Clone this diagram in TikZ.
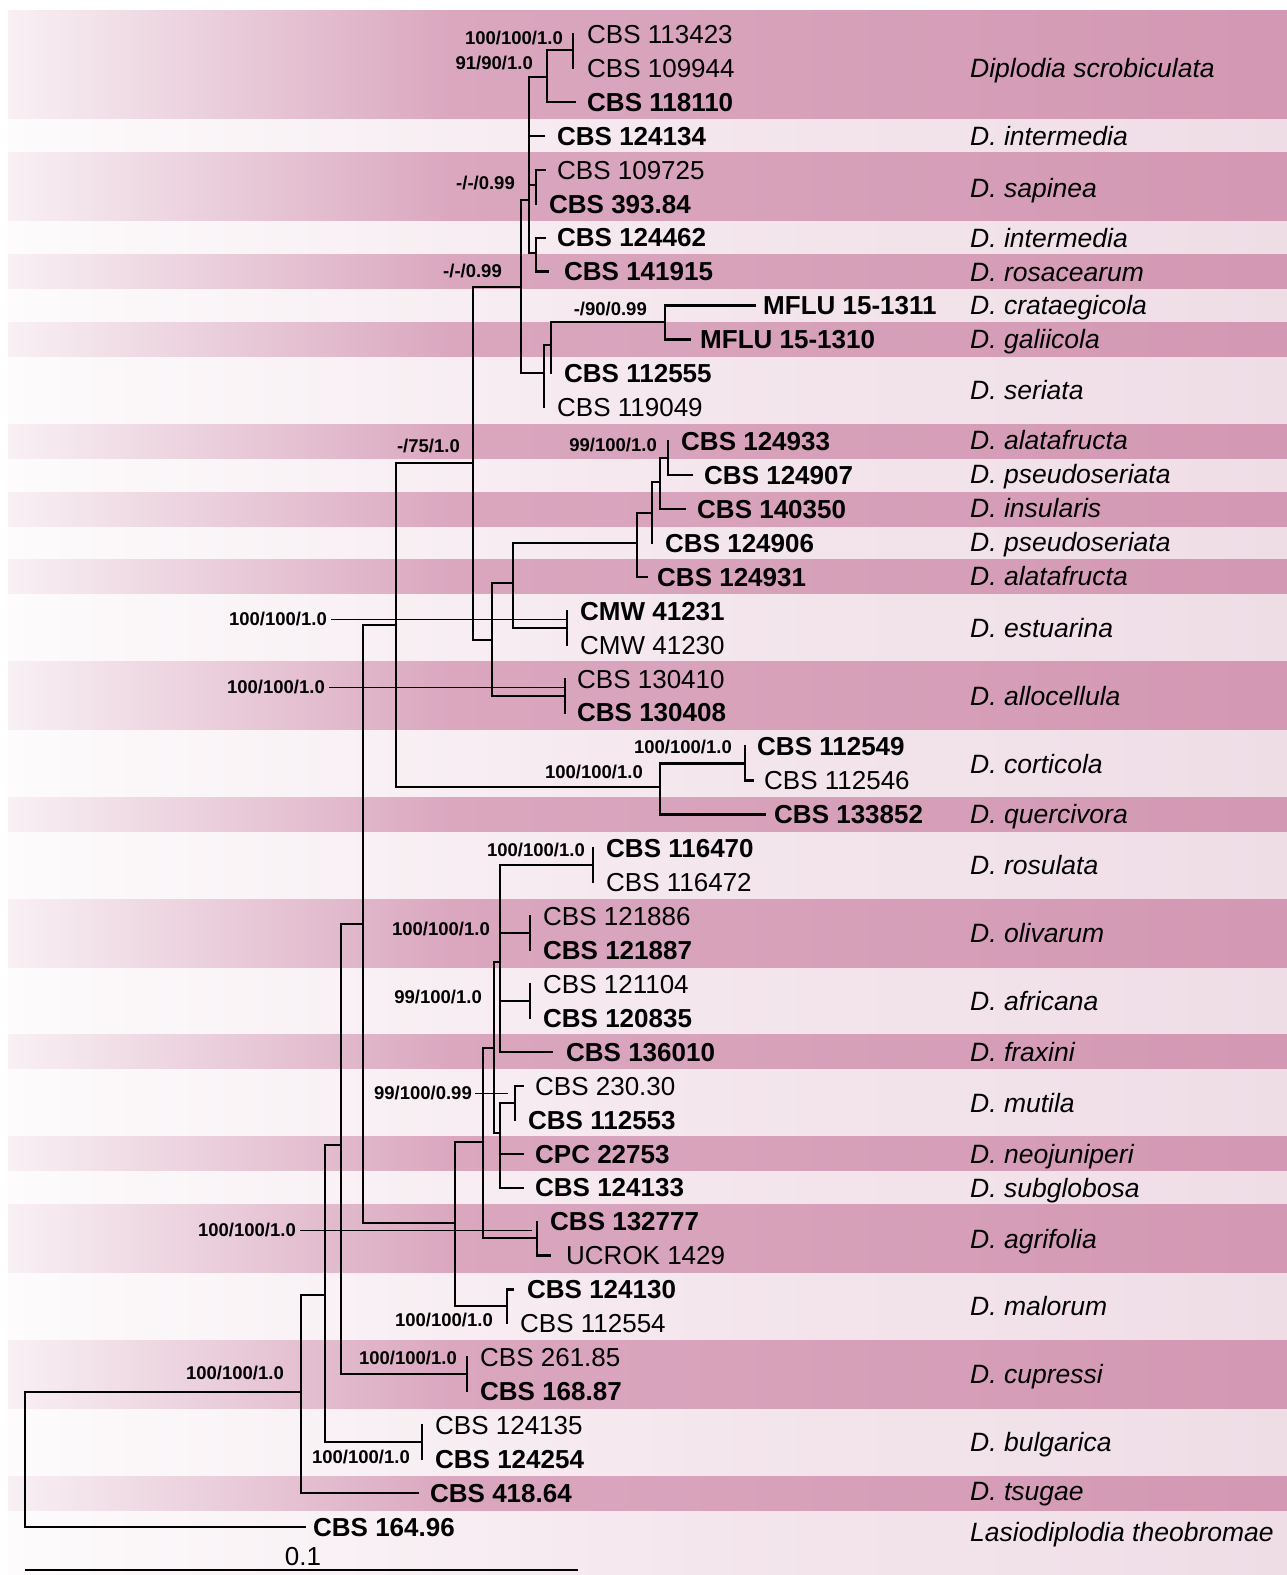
\documentclass[tikz,border=0pt]{standalone}
\usepackage{fontspec}
\setmainfont{Liberation Sans}
\definecolor{ltA}{RGB}{253,251,252}
\definecolor{ltB}{RGB}{244,230,237}
\definecolor{ltC}{RGB}{239,221,230}
\definecolor{dkA}{RGB}{248,240,244}
\definecolor{dkB}{RGB}{218,167,191}
\definecolor{dkC}{RGB}{211,152,179}
\newcommand{\dband}[2]{%
  \shade[left color=dkA, right color=dkB] (8,#1) rectangle (451,#2);
  \shade[left color=dkB, right color=dkC] (450,#1) rectangle (1287,#2);}
\begin{document}
\begin{tikzpicture}[x=1pt,y=-1pt,
  branch/.style={line width=2.2pt, line cap=rect, line join=miter},
  leader/.style={line width=0.9pt},
  tax/.style={anchor=west, inner sep=0pt, font=\fontsize{26}{30}\selectfont, text height=18.7pt, text depth=0pt},
  taxb/.style={tax, font=\bfseries\fontsize{26}{30}\selectfont},
  spc/.style={anchor=west, inner sep=0pt, font=\itshape\fontsize{26.5}{30}\selectfont, text height=19pt, text depth=0pt},
  sup/.style={anchor=east, inner sep=0pt, font=\bfseries\fontsize{18.5}{22}\selectfont, text height=13.3pt, text depth=0pt}]
\useasboundingbox (0,0) rectangle (1287,1575);
% background
\fill[white] (0,0) rectangle (1287,1575);
\shade[left color=ltA, right color=ltB] (8,10) rectangle (701,1575);
\shade[left color=ltB, right color=ltC] (700,10) rectangle (1287,1575);
\dband{10}{118.9}
\dband{152.7}{220.6}
\dband{254.6}{288.5}
\dband{322.4}{356.3}
\dband{424.2}{458.1}
\dband{492.0}{526.0}
\dband{559.9}{593.8}
\dband{661.7}{729.6}
\dband{797.4}{831.4}
\dband{899.2}{967.1}
\dband{1034.9}{1068.9}
\dband{1136.7}{1170.6}
\dband{1204.6}{1272.5}
\dband{1340.3}{1408.2}
\dband{1476.0}{1510.0}
% ---------- tree coordinates ----------
\coordinate (R) at (25,1460);
\coordinate (N1) at (301,1392);
\coordinate (t44) at (305,1526.9);
\coordinate (N2) at (325,1295);
\coordinate (t43) at (418,1493.0);
\coordinate (N3) at (341,1145);
\coordinate (Bul) at (422,1442);
\coordinate (t41) at (422,1425.1);
\coordinate (t42) at (422,1459.1);
\coordinate (N4) at (363,924);
\coordinate (Cup) at (467,1374);
\coordinate (t39) at (467,1357.3);
\coordinate (t40) at (467,1391.2);
\coordinate (N5) at (396,625);
\coordinate (N6) at (455,1223);
\coordinate (N7) at (483,1142);
\coordinate (Mal) at (507,1306);
\coordinate (t37) at (513,1289.4);
\coordinate (t38) at (507,1323.3);
\coordinate (N8) at (494,1048);
\coordinate (Agr) at (537,1238);
\coordinate (t35) at (537,1221.6);
\coordinate (t36) at (550,1255.5);
\coordinate (P1) at (500,962);
\coordinate (P2) at (500,1133);
\coordinate (Ros) at (593,865);
\coordinate (t24) at (593,848.3);
\coordinate (t25) at (593,882.3);
\coordinate (Oli) at (530,933);
\coordinate (t26) at (530,916.2);
\coordinate (t27) at (530,950.1);
\coordinate (Afr) at (530,1001);
\coordinate (t28) at (530,984.0);
\coordinate (t29) at (530,1018.0);
\coordinate (t30) at (552,1051.9);
\coordinate (Mut) at (515,1103);
\coordinate (t31) at (523,1085.8);
\coordinate (t32) at (515,1119.8);
\coordinate (t33) at (523,1153.7);
\coordinate (t34) at (523,1187.6);
\coordinate (N9) at (473,463);
\coordinate (CQ) at (660,787);
\coordinate (Cor) at (745,763.5);
\coordinate (t21) at (745,746.5);
\coordinate (t22) at (753,780.5);
\coordinate (t23) at (765,814.4);
\coordinate (N10) at (521,287);
\coordinate (N11) at (492,640);
\coordinate (N12) at (513,583);
\coordinate (All) at (565,695.6);
\coordinate (t19) at (565,678.7);
\coordinate (t20) at (565,712.6);
\coordinate (N13) at (637,543);
\coordinate (Est) at (567,627.7);
\coordinate (t17) at (567,610.8);
\coordinate (t18) at (567,644.7);
\coordinate (N14) at (652,513);
\coordinate (t16) at (647,576.9);
\coordinate (N15) at (660,482);
\coordinate (t15) at (652,542.9);
\coordinate (N16) at (668,458);
\coordinate (t14) at (685,509.0);
\coordinate (t12) at (668,441.2);
\coordinate (t13) at (692,475.1);
\coordinate (A) at (529,200);
\coordinate (S1) at (544,373);
\coordinate (B) at (547,77);
\coordinate (t3) at (544,135.8);
\coordinate (C) at (536,185);
\coordinate (D) at (536,253);
\coordinate (E) at (573,50);
\coordinate (t2) at (575,101.9);
\coordinate (t0) at (573,34.0);
\coordinate (t1) at (573,67.9);
\coordinate (t4) at (545,169.7);
\coordinate (t5) at (536,203.7);
\coordinate (t6) at (545,237.6);
\coordinate (t7) at (548,271.5);
\coordinate (S2) at (551,345);
\coordinate (t11) at (544,407.2);
\coordinate (M) at (665,322);
\coordinate (t10) at (551,373.3);
\coordinate (t8) at (755,305.4);
\coordinate (t9) at (690,339.4);
% ---------- branches ----------
\foreach \p/\c in {R/N1,R/t44,N1/N2,N1/t43,N2/N3,N2/Bul,Bul/t41,Bul/t42,
  N3/N4,N3/Cup,Cup/t39,Cup/t40,N4/N5,N4/N6,N6/N7,N6/Mal,Mal/t37,Mal/t38,
  N7/N8,N7/Agr,Agr/t35,Agr/t36,N8/P1,N8/P2,P1/Ros,P1/Oli,P1/Afr,P1/t30,
  Ros/t24,Ros/t25,Oli/t26,Oli/t27,Afr/t28,Afr/t29,P2/Mut,P2/t33,P2/t34,
  Mut/t31,Mut/t32,N5/N9,N5/CQ,CQ/Cor,CQ/t23,Cor/t21,Cor/t22,N9/N10,N9/N11,
  N11/N12,N11/All,All/t19,All/t20,N12/N13,N12/Est,Est/t17,Est/t18,
  N13/N14,N13/t16,N14/N15,N14/t15,N15/N16,N15/t14,N16/t12,N16/t13,
  N10/A,N10/S1,A/B,A/t3,A/C,A/D,B/E,B/t2,E/t0,E/t1,C/t4,C/t5,D/t6,D/t7,
  S1/S2,S1/t11,S2/M,S2/t10,M/t8,M/t9}
  \draw[branch] (\p) |- (\c);
% ---------- taxon labels ----------
\node[tax]  (L0)  at (587,34.0)   {CBS 113423};
\node[tax]  (L1)  at (587,67.9)   {CBS 109944};
\node[taxb] (L2)  at (587,101.9)  {CBS 118110};
\node[taxb] (L3)  at (557,135.8)  {CBS 124134};
\node[tax]  (L4)  at (557,169.7)  {CBS 109725};
\node[taxb] (L5)  at (549,203.7)  {CBS 393.84};
\node[taxb] (L6)  at (557,237.6)  {CBS 124462};
\node[taxb] (L7)  at (564,271.5)  {CBS 141915};
\node[taxb] (L8)  at (763,305.4)  {MFLU 15-1311};
\node[taxb] (L9)  at (700,339.4)  {MFLU 15-1310};
\node[taxb] (L10) at (564,373.3)  {CBS 112555};
\node[tax]  (L11) at (557,407.2)  {CBS 119049};
\node[taxb] (L12) at (681,441.2)  {CBS 124933};
\node[taxb] (L13) at (704,475.1)  {CBS 124907};
\node[taxb] (L14) at (697,509.0)  {CBS 140350};
\node[taxb] (L15) at (665,542.9)  {CBS 124906};
\node[taxb] (L16) at (657,576.9)  {CBS 124931};
\node[taxb] (L17) at (580,610.8)  {CMW 41231};
\node[tax]  (L18) at (580,644.7)  {CMW 41230};
\node[tax]  (L19) at (577,678.7)  {CBS 130410};
\node[taxb] (L20) at (577,712.6)  {CBS 130408};
\node[taxb] (L21) at (757,746.5)  {CBS 112549};
\node[tax]  (L22) at (764,780.5)  {CBS 112546};
\node[taxb] (L23) at (774,814.4)  {CBS 133852};
\node[taxb] (L24) at (606,848.3)  {CBS 116470};
\node[tax]  (L25) at (606,882.3)  {CBS 116472};
\node[tax]  (L26) at (543,916.2)  {CBS 121886};
\node[taxb] (L27) at (543,950.1)  {CBS 121887};
\node[tax]  (L28) at (543,984.0)  {CBS 121104};
\node[taxb] (L29) at (543,1018.0) {CBS 120835};
\node[taxb] (L30) at (566,1051.9) {CBS 136010};
\node[tax]  (L31) at (535,1085.8) {CBS 230.30};
\node[taxb] (L32) at (528,1119.8) {CBS 112553};
\node[taxb] (L33) at (535,1153.7) {CPC 22753};
\node[taxb] (L34) at (535,1187.6) {CBS 124133};
\node[taxb] (L35) at (550,1221.6) {CBS 132777};
\node[tax]  (L36) at (566,1255.5) {UCROK 1429};
\node[taxb] (L37) at (527,1289.4) {CBS 124130};
\node[tax]  (L38) at (520,1323.3) {CBS 112554};
\node[tax]  (L39) at (480,1357.3) {CBS 261.85};
\node[taxb] (L40) at (480,1391.2) {CBS 168.87};
\node[tax]  (L41) at (435,1425.1) {CBS 124135};
\node[taxb] (L42) at (435,1459.1) {CBS 124254};
\node[taxb] (L43) at (430,1493.0) {CBS 418.64};
\node[taxb] (L44) at (313,1526.9) {CBS 164.96};
% ---------- species labels ----------
\node[spc] (G1)  at (970,67.9)   {Diplodia scrobiculata};
\node[spc] (G2)  at (970,135.8)  {D. intermedia};
\node[spc] (G3)  at (970,187.5)  {D. sapinea};
\node[spc] (G4)  at (970,237.6)  {D. intermedia};
\node[spc] (G5)  at (970,271.5)  {D. rosacearum};
\node[spc] (G6)  at (970,304.5)  {D. crataegicola};
\node[spc] (G7)  at (970,339.4)  {D. galiicola};
\node[spc] (G8)  at (970,390.3)  {D. seriata};
\node[spc] (G9)  at (970,440.2)  {D. alatafructa};
\node[spc] (G10) at (970,474.1)  {D. pseudoseriata};
\node[spc] (G11) at (970,508.0)  {D. insularis};
\node[spc] (G12) at (970,541.9)  {D. pseudoseriata};
\node[spc] (G13) at (970,575.9)  {D. alatafructa};
\node[spc] (G14) at (970,627.7)  {D. estuarina};
\node[spc] (G15) at (970,695.6)  {D. allocellula};
\node[spc] (G16) at (970,763.5)  {D. corticola};
\node[spc] (G17) at (970,814.4)  {D. quercivora};
\node[spc] (G18) at (970,865.3)  {D. rosulata};
\node[spc] (G19) at (970,933.2)  {D. olivarum};
\node[spc] (G20) at (970,1001.0) {D. africana};
\node[spc] (G21) at (970,1051.9) {D. fraxini};
\node[spc] (G22) at (970,1102.8) {D. mutila};
\node[spc] (G23) at (970,1153.7) {D. neojuniperi};
\node[spc] (G24) at (970,1187.6) {D. subglobosa};
\node[spc] (G25) at (970,1238.6) {D. agrifolia};
\node[spc] (G26) at (970,1306.4) {D. malorum};
\node[spc] (G27) at (970,1374.2) {D. cupressi};
\node[spc] (G28) at (970,1442.1) {D. bulgarica};
\node[spc] (G29) at (970,1491.0) {D. tsugae};
\node[spc] (G30) at (970,1532.0) {Lasiodiplodia theobromae};
% ---------- support values ----------
\node[sup] (sE)   at (563,38)   {100/100/1.0};
\node[sup] (sB)   at (533,63)   {91/90/1.0};
\node[sup] (sC)   at (515,183)  {-/-/0.99};
\node[sup] (sN9)  at (502,271)  {-/-/0.99};
\node[sup] (sM)   at (647,309)  {-/90/0.99};
\node[sup] (sN5)  at (460,446)  {-/75/1.0};
\node[sup] (sN16) at (657,445)  {99/100/1.0};
\node[sup] (sEst) at (327,619)  {100/100/1.0};
\node[sup] (sAll) at (325,687)  {100/100/1.0};
\node[sup] (sCor) at (732,747)  {100/100/1.0};
\node[sup] (sCQ)  at (643,772)  {100/100/1.0};
\node[sup] (sRos) at (585,850)  {100/100/1.0};
\node[sup] (sOli) at (490,929)  {100/100/1.0};
\node[sup] (sAfr) at (482,997)  {99/100/1.0};
\node[sup] (sMut) at (472,1093) {99/100/0.99};
\node[sup] (sAgr) at (296,1230) {100/100/1.0};
\node[sup] (sMal) at (493,1320) {100/100/1.0};
\node[sup] (sCup) at (457,1358) {100/100/1.0};
\node[sup] (sIn)  at (284,1373) {100/100/1.0};
\node[sup] (sBul) at (410,1457) {100/100/1.0};
% leaders
\coordinate (LEst) at (567,619);
\coordinate (LAll) at (565,687);
\coordinate (LMut) at (508,1093);
\coordinate (LAgr) at (532,1230);
\draw[leader] ([xshift=4pt]sEst.east) -- (LEst);
\draw[leader] ([xshift=4pt]sAll.east) -- (LAll);
\draw[leader] ([xshift=3pt]sMut.east) -- (LMut);
\draw[leader] ([xshift=4pt]sAgr.east) -- (LAgr);
% scale bar
\coordinate (SB1) at (25,1570);
\coordinate (SB2) at (578,1570);
\draw[line width=2.2pt] (SB1) -- (SB2);
\node[anchor=south, inner sep=0pt, font=\fontsize{26}{30}\selectfont] (SBL) at (303,1566) {0.1};
\end{tikzpicture}
\end{document}
